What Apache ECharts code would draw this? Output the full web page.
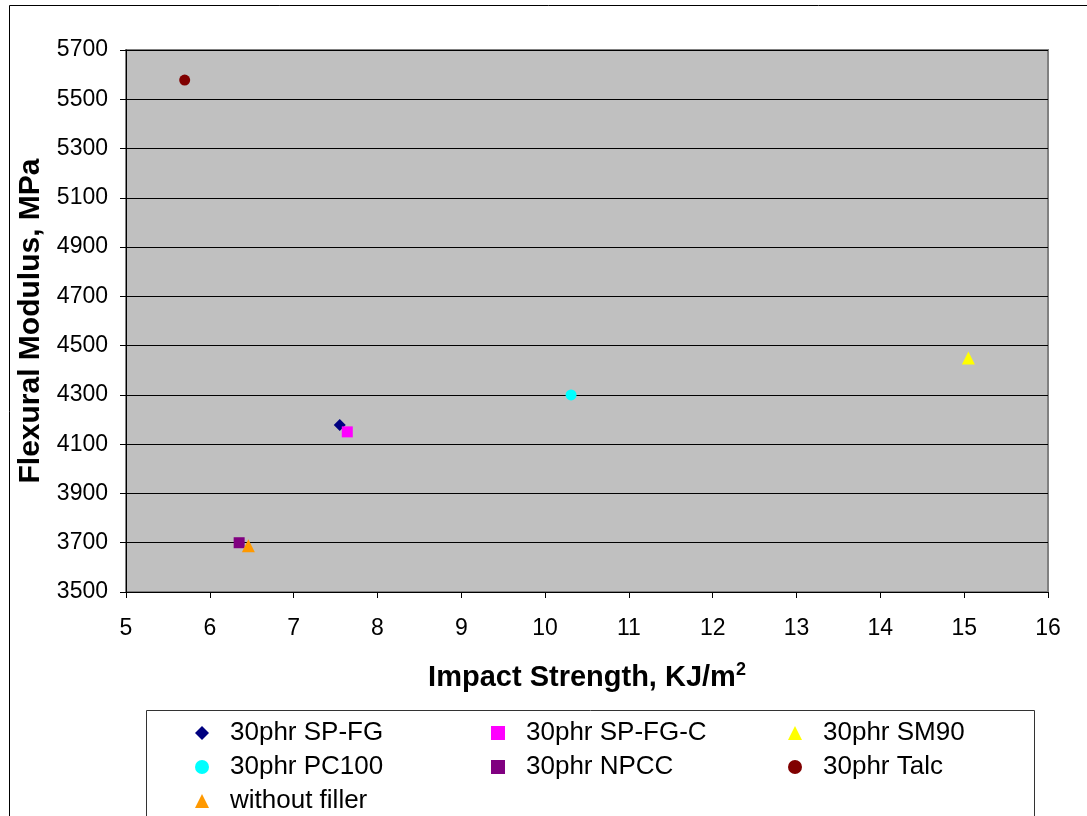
<!DOCTYPE html>
<html><head><meta charset="utf-8">
<script src="https://cdn.jsdelivr.net/npm/echarts@6/dist/echarts.min.js"></script>
<style>html,body{margin:0;padding:0;background:#fff}#c{width:1087px;height:816px}</style>
</head><body><div id="c"></div>
<script>
const seriesNames = ['30phr SP-FG','30phr SP-FG-C','30phr SM90','30phr PC100','30phr NPCC','30phr Talc','without filler'];
const impactStrength = [7.55, 7.64, 15.05, 10.31, 6.35, 5.70, 6.46];
const flexuralModulus = [4178, 4150, 4450, 4300, 3700, 5578, 3688];
const yTicks = [3500,3700,3900,4100,4300,4500,4700,4900,5100,5300,5500,5700];
const xTicks = [5,6,7,8,9,10,11,12,13,14,15,16];

const symbols = ['diamond','rect','triangle','circle','rect','circle','triangle'];
const colors = ['#000080','#FF00FF','#FFFF00','#00FFFF','#800080','#800000','#FF9900'];
const sizes = [12,11,13,11,11,11,13];

const FONT = 'Liberation Sans, Arial, sans-serif';
const chart = echarts.init(document.getElementById('c'));
const series = seriesNames.map((n,i)=>({
  type:'scatter', name:n, symbol:symbols[i], symbolSize:sizes[i],
  itemStyle:{color:colors[i], opacity:1},
  data:[[impactStrength[i], flexuralModulus[i]]],
  emphasis:{disabled:true}
}));
const colX=[197,493,790], rowY=[730,764,798];
const legends = seriesNames.map((n,i)=>({
  data:[n], left: colX[i%3]-7, top: rowY[Math.floor(i/3)]-15,
  itemWidth: 14, itemHeight: 14, selectedMode:false,
  textStyle:{fontFamily:FONT, fontSize:26, color:'#000', lineHeight:26, padding:[0,0,0,16]}
}));
chart.setOption({
  animation:false,
  backgroundColor:'#fff',
  graphic:[
    {type:'rect', shape:{x:9.5,y:5.5,width:1200,height:1000}, style:{fill:'none',stroke:'#000',lineWidth:1}, silent:true, z:-10},
    {type:'rect', shape:{x:146.5,y:710.5,width:888,height:200}, style:{fill:'#fff',stroke:'#333',lineWidth:1}, silent:true, z:-5}
  ],
  legend: legends,
  grid:{left:126, right:39, top:50, bottom:224, show:true, backgroundColor:'#C0C0C0', borderColor:'#808080', borderWidth:2},
  xAxis:{type:'value', min:5, max:16, interval:1,
    name:'{t|Impact Strength, KJ/m}{s|2}', nameLocation:'middle', nameGap:69,
    nameTextStyle:{rich:{t:{fontFamily:FONT, fontSize:29, fontWeight:'bold', color:'#000'},
      s:{fontFamily:FONT, fontSize:18, fontWeight:'bold', color:'#000', verticalAlign:'top', padding:[0,0,15,0]}}},
    axisLine:{show:true, onZero:false, lineStyle:{color:'#000', width:1}},
    axisTick:{show:true, length:6, lineStyle:{color:'#000'}},
    axisLabel:{fontFamily:FONT, fontSize:23, color:'#000', margin:25, formatter:v=>String(v)},
    splitLine:{show:false}
  },
  yAxis:{type:'value', min:3500, max:5700, interval:200,
    name:'Flexural Modulus, MPa', nameLocation:'middle', nameGap:63, nameRotate:90,
    nameTextStyle:{fontFamily:FONT, fontSize:30, fontWeight:'bold', color:'#000'},
    axisLine:{show:true, onZero:false, lineStyle:{color:'#000', width:1}},
    axisTick:{show:true, length:6, lineStyle:{color:'#000'}},
    axisLabel:{fontFamily:FONT, fontSize:23, color:'#000', margin:18, formatter:v=>String(v)},
    splitLine:{show:true, lineStyle:{color:'#000', width:1}}
  },
  series: series
});
</script></body></html>
